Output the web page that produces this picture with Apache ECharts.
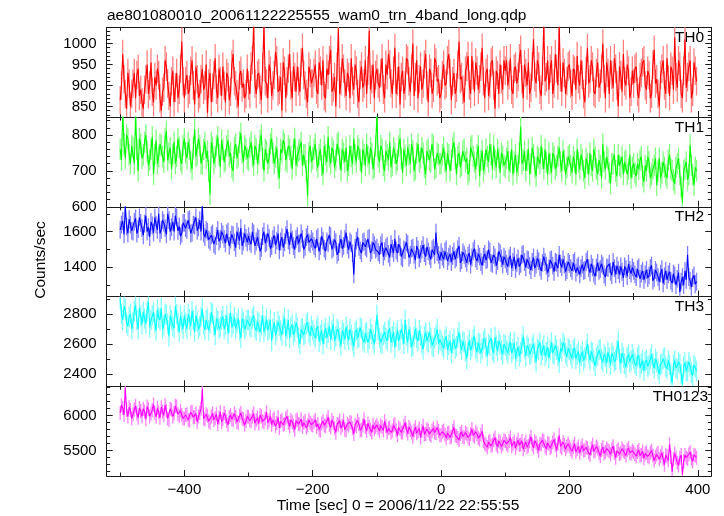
<!DOCTYPE html>
<html><head><meta charset="utf-8">
<script src="https://cdn.jsdelivr.net/npm/echarts@6/dist/echarts.min.js"></script>
<style>html,body{margin:0;padding:0;background:#fff}#c{width:724px;height:516px}</style>
</head><body><div id="c"></div>
<script>
const title = "ae801080010_20061122225555_wam0_trn_4band_long.qdp";
const yName = "Counts/sec";
const xName = "Time [sec] 0 = 2006/11/22 22:55:55";
const panelNames = ["TH0", "TH1", "TH2", "TH3", "TH0123"];
const t0 = -500, dt = 2;

const th0 = [
865,900,975,915,880,845,930,905,850,880,905,930,870,925,940,875,890,860,845,890,915,950,880,900,955,885,860,920,900,940,925,870,840,885,895,960,945,905,875,850,910,935,860,895,930,870,890,940,1005,910,
870,910,925,880,890,935,960,900,855,945,915,870,880,915,940,890,900,950,835,905,930,860,895,925,965,890,870,940,910,875,945,900,860,930,920,865,885,950,975,910,900,880,850,925,935,895,905,870,880,940,
900,880,945,960,1045,905,880,925,930,890,865,945,1040,910,905,870,950,935,875,900,925,980,960,885,890,920,840,955,935,870,910,940,975,900,870,945,920,885,945,910,885,955,990,925,900,880,860,945,930,905,
905,930,950,890,880,955,935,900,960,875,870,940,925,960,985,885,895,920,850,945,1036,880,910,965,940,905,875,930,920,870,965,910,890,950,935,880,860,925,945,895,905,960,880,935,1030,890,915,950,870,925,
940,905,895,930,965,890,870,950,925,975,950,905,880,935,990,880,910,945,855,920,935,880,900,965,960,910,885,940,1000,875,920,960,870,915,945,890,905,950,975,900,860,940,930,880,895,965,955,910,915,870,
880,925,950,900,905,960,975,930,865,910,930,880,895,950,1005,915,920,890,860,935,945,970,900,880,970,925,885,955,935,890,915,945,990,910,870,930,940,875,905,955,960,900,845,935,925,880,950,915,890,960,
935,960,900,925,965,890,880,940,945,905,920,965,985,915,870,950,930,900,955,880,895,945,1010,920,905,960,945,890,875,935,1045,910,920,960,890,940,960,880,905,975,940,900,1045,920,885,955,930,880,910,945,
950,905,875,940,935,890,970,915,900,960,925,880,860,935,990,905,915,960,945,885,880,930,955,895,905,940,1000,915,870,955,930,880,960,925,895,965,940,900,850,945,925,885,975,910,900,950,935,870,885,935,
905,940,945,885,870,920,930,955,960,900,890,935,925,870,880,950,985,905,915,880,850,925,940,960,900,880,965,915,875,945,935,890,1015,920,895,960,945,880,870,935,1010,895,920,945,960,870,885,955,935,910];

const th1 = [
760,730,860,775,735,800,790,745,720,770,765,720,855,760,700,790,775,735,745,780,800,755,715,730,760,795,690,745,785,720,740,775,770,740,725,790,810,730,750,765,705,745,780,720,740,790,765,730,720,770,
790,750,735,780,760,725,705,765,815,740,745,790,770,720,720,760,780,735,755,700,635,780,765,720,740,770,795,745,710,785,760,725,730,770,785,740,750,710,700,765,775,735,740,780,805,750,725,770,760,735,
730,765,780,740,715,770,760,720,745,785,800,735,700,760,755,720,735,775,790,750,720,740,765,705,680,760,750,785,775,730,725,770,760,740,705,760,790,715,740,755,760,780,715,745,745,700,630,750,770,725,
735,760,775,730,710,745,760,715,690,770,745,725,795,740,720,765,755,710,730,775,780,735,700,760,750,725,765,700,715,770,740,720,790,745,725,770,760,730,695,760,745,715,775,740,720,765,750,705,710,770,
855,740,725,770,760,715,700,755,745,730,780,710,715,765,750,720,730,770,790,735,695,760,740,715,765,745,720,775,755,700,705,750,775,725,735,765,750,710,690,755,760,730,725,775,770,705,710,750,745,720,
720,745,765,725,700,750,745,700,730,765,780,735,690,740,750,710,715,755,760,725,735,690,700,765,770,740,725,705,745,770,685,730,755,700,720,760,740,725,775,745,705,770,730,710,760,735,695,750,740,715,
710,735,755,700,725,760,690,725,745,695,715,750,823,720,730,755,700,730,760,690,720,765,745,710,685,740,735,720,770,735,705,760,725,690,750,720,695,750,740,705,715,740,765,725,700,755,730,690,710,740,
745,715,695,740,725,690,760,725,705,745,730,700,680,735,720,690,750,715,700,760,740,705,690,730,715,680,775,725,705,740,735,695,665,720,720,745,700,685,745,715,710,740,690,725,730,690,705,745,680,710,
720,695,685,720,705,730,740,685,670,715,700,740,725,680,690,705,715,735,660,700,735,680,695,725,710,690,680,730,745,705,700,675,665,710,720,735,690,655,612,700,705,725,675,690,772,715,690,660,710,700];

const th2 = [
1610,1640,1660,1585,1745,1630,1590,1670,1640,1605,1600,1655,1675,1590,1615,1680,1650,1620,1580,1645,1690,1600,1625,1570,1655,1635,1595,1680,1640,1610,1700,1590,1610,1665,1650,1620,1585,1700,1665,1600,1625,1655,1600,1690,1680,1605,1630,1575,1590,1650,
1650,1620,1610,1665,1670,1590,1595,1640,1635,1680,1605,1625,1665,1600,1750,1590,1570,1610,1600,1555,1545,1580,1590,1530,1520,1575,1610,1545,1560,1600,1585,1560,1535,1590,1600,1520,1555,1585,1580,1540,1510,1600,1575,1550,1620,1520,1545,1590,1565,1540,
1575,1545,1530,1600,1590,1520,1545,1570,1560,1490,1510,1575,1600,1535,1540,1590,1565,1505,1520,1560,1580,1525,1550,1590,1495,1545,1570,1510,1540,1580,1615,1550,1525,1595,1555,1520,1500,1560,1575,1535,1535,1590,1560,1500,1515,1570,1585,1540,1530,1560,
1545,1520,1505,1560,1570,1490,1520,1575,1550,1505,1490,1545,1535,1580,1575,1500,1510,1555,1540,1470,1485,1530,1560,1505,1520,1560,1595,1525,1500,1545,1535,1480,1360,1510,1550,1570,1515,1495,1480,1540,1545,1515,1505,1560,1565,1480,1495,1540,1525,1500,
1510,1485,1470,1525,1540,1460,1490,1510,1520,1475,1455,1530,1505,1480,1560,1495,1480,1530,1515,1460,1450,1500,1495,1540,1530,1455,1470,1505,1510,1470,1440,1520,1500,1450,1475,1500,1525,1480,1460,1515,1490,1465,1445,1500,1510,1470,1595,1485,1470,1440,
1485,1460,1445,1490,1500,1435,1460,1475,1430,1465,1490,1445,1455,1500,1520,1425,1440,1485,1470,1450,1425,1465,1480,1415,1455,1490,1505,1450,1435,1475,1460,1430,1410,1460,1475,1440,1445,1500,1490,1425,1420,1470,1455,1410,1435,1490,1480,1450,1415,1460,
1445,1420,1405,1450,1465,1395,1430,1460,1390,1425,1450,1405,1420,1470,1475,1430,1400,1445,1440,1410,1385,1430,1455,1395,1415,1450,1435,1400,1380,1425,1460,1430,1410,1370,1395,1440,1445,1410,1375,1430,1425,1395,1470,1420,1400,1445,1415,1375,1385,1430,
1420,1395,1380,1425,1435,1370,1400,1410,1360,1395,1415,1380,1385,1430,1445,1395,1370,1420,1400,1365,1350,1400,1425,1380,1390,1420,1410,1360,1345,1400,1395,1420,1375,1355,1430,1395,1360,1410,1385,1360,1405,1375,1340,1405,1390,1350,1420,1385,1365,1400,
1380,1360,1345,1390,1400,1335,1365,1380,1330,1360,1385,1340,1355,1395,1410,1325,1340,1385,1370,1345,1320,1365,1390,1310,1350,1380,1330,1360,1375,1325,1310,1365,1355,1300,1335,1370,1260,1320,1345,1300,1380,1330,1470,1345,1325,1290,1340,1355,1305,1320];

const th3 = [
2900,2800,2760,2850,2830,2740,2720,2780,2800,2700,2745,2820,2860,2760,2700,2840,2790,2730,2815,2770,2735,2820,2880,2710,2760,2790,2810,2740,2690,2830,2775,2760,2840,2700,2725,2800,2795,2735,2650,2790,2760,2720,2705,2850,2800,2740,2680,2790,2745,2700,
2790,2740,2700,2800,2765,2720,2820,2760,2680,2790,2750,2700,2720,2780,2835,2730,2695,2760,2770,2690,2740,2810,2800,2720,2660,2770,2755,2700,2715,2760,2785,2700,2730,2790,2670,2740,2810,2710,2735,2780,2700,2740,2770,2690,2640,2770,2745,2700,2720,2760,
2760,2720,2710,2770,2790,2705,2690,2750,2740,2680,2725,2790,2680,2720,2765,2690,2700,2760,2620,2700,2745,2660,2690,2750,2720,2690,2660,2730,2775,2650,2700,2760,2640,2710,2730,2660,2685,2740,2710,2640,2600,2700,2705,2660,2670,2730,2745,2680,2655,2720,
2690,2660,2640,2700,2720,2615,2660,2690,2600,2670,2705,2640,2675,2720,2630,2690,2735,2620,2650,2700,2685,2640,2590,2690,2670,2630,2715,2660,2625,2700,2660,2620,2580,2680,2695,2640,2645,2710,2700,2630,2610,2670,2680,2610,2635,2700,2665,2630,2600,2680,
2795,2690,2640,2610,2600,2660,2680,2640,2620,2690,2705,2610,2650,2680,2575,2650,2690,2620,2630,2700,2665,2600,2760,2660,2610,2700,2645,2580,2590,2650,2700,2640,2620,2690,2655,2600,2565,2650,2675,2620,2610,2680,2640,2590,2580,2640,2660,2700,2600,2630,
2620,2590,2570,2630,2650,2560,2595,2620,2540,2600,2630,2570,2585,2640,2680,2600,2560,2620,2610,2550,2500,2590,2625,2560,2580,2630,2655,2570,2545,2610,2600,2540,2570,2620,2635,2580,2520,2600,2590,2640,2560,2540,2645,2590,2555,2620,2600,2560,2530,2600,
2590,2560,2540,2590,2615,2540,2565,2610,2500,2550,2580,2520,2545,2600,2650,2570,2520,2590,2575,2530,2535,2580,2600,2540,2480,2570,2560,2610,2525,2560,2590,2520,2545,2580,2505,2560,2610,2540,2530,2590,2565,2520,2475,2570,2550,2610,2590,2540,2515,2570,
2560,2530,2505,2560,2575,2500,2530,2550,2470,2520,2550,2490,2510,2560,2600,2530,2490,2550,2540,2490,2455,2510,2525,2560,2565,2500,2480,2530,2515,2470,2545,2510,2460,2540,2520,2480,2495,2560,2620,2500,2470,2540,2510,2470,2445,2510,2530,2480,2490,2530,
2500,2470,2455,2510,2525,2440,2470,2490,2420,2480,2495,2450,2460,2500,2530,2470,2440,2500,2480,2430,2400,2460,2470,2500,2510,2450,2435,2490,2460,2400,2340,2460,2490,2440,2430,2480,2465,2400,2330,2450,2475,2420,2420,2480,2450,2410,2390,2460,2445,2420];

const th0123 = [
6040,6150,6110,6010,6400,6080,5990,6120,6080,5960,6020,6090,6140,6030,5970,6110,6065,5990,6100,6060,5950,6130,6090,5990,6030,6080,6160,6040,5985,6110,6050,5970,6120,6060,6005,6150,6070,5960,5940,6100,6085,5990,6035,6140,6130,6020,5995,6070,6010,5960,
5960,6010,6020,5940,5930,6050,6060,5980,5975,6030,5910,5990,6040,6100,6385,5960,5945,6020,6000,5920,5900,5990,6030,5940,5965,6020,5880,5970,6050,5910,5950,6040,5990,5920,5870,5980,6010,5950,5935,6030,5980,5910,5895,6000,6040,5960,5950,5870,5920,5990,
5985,5930,5920,5990,6030,5890,5940,5970,5890,6010,5990,5920,5905,5960,6050,5900,5935,5990,5870,5940,5960,5850,5895,5980,5825,5920,5935,5870,5880,5960,5990,5900,5850,5940,5910,5860,5800,5930,5945,5880,5875,5950,5840,5900,5925,5830,5860,5940,5900,5870,
5860,5910,5940,5840,5880,5800,5790,5890,5925,5860,5850,5920,5980,5870,5830,5940,5895,5820,5760,5880,5870,5930,5820,5860,5935,5800,5790,5880,5855,5910,5900,5820,5740,5870,5845,5930,5880,5790,5800,5860,5950,5840,5780,5890,5835,5800,5760,5870,5810,5840,
5870,5820,5780,5860,5840,5790,5920,5850,5760,5820,5830,5760,5790,5860,5880,5790,5720,5830,5810,5760,5765,5850,5900,5800,5745,5840,5800,5760,5700,5790,5835,5750,5770,5820,5690,5780,5855,5730,5740,5810,5790,5740,5715,5790,5820,5760,5750,5830,5780,5720,
5720,5770,5790,5730,5680,5750,5760,5690,5700,5780,5835,5720,5710,5680,5650,5740,5770,5700,5690,5760,5740,5690,5665,5740,5810,5720,5700,5770,5735,5680,5660,5730,5780,5640,5600,5580,5550,5620,5640,5570,5585,5650,5690,5590,5560,5640,5620,5560,5595,5650,
5640,5600,5575,5640,5690,5560,5600,5630,5540,5600,5655,5580,5590,5640,5520,5580,5625,5550,5570,5630,5700,5590,5545,5640,5610,5560,5500,5600,5590,5650,5640,5560,5530,5610,5600,5540,5555,5620,5660,5580,5510,5600,5720,5560,5540,5620,5580,5520,5565,5600,
5560,5520,5490,5550,5600,5480,5520,5560,5470,5530,5575,5500,5505,5550,5540,5470,5440,5530,5585,5490,5495,5560,5530,5470,5420,5510,5550,5460,5480,5530,5510,5490,5450,5520,5565,5470,5400,5500,5520,5450,5470,5530,5495,5480,5430,5510,5540,5470,5455,5500,
5480,5450,5420,5480,5510,5430,5440,5490,5390,5460,5470,5420,5405,5470,5500,5430,5360,5410,5445,5470,5380,5420,5470,5380,5300,5440,5420,5360,5590,5410,5200,5380,5460,5400,5330,5290,5400,5440,5160,5350,5440,5400,5380,5450,5480,5390,5350,5440,5430,5400];

const errHalf = [34, 30, 50, 68, 100];

const xMin = -521, xMax = 421;
const xLabelValues = [-400, -200, 0, 200, 400];
const xMinorTicks = [-500, -300, -100, 100, 300];

const yMin = [825, 600, 1236, 2318, 5139];
const yMax = [1038.6, 850, 1740, 2917, 6420];
const yLabelValues = [[850, 900, 950, 1000], [600, 700, 800], [1400, 1600], [2400, 2600, 2800], [5500, 6000]];
const yMinorStep = [10, 20, 100, 100, 100];

// ---- presentation ----
const FONT = "'Liberation Sans', Arial, Helvetica, sans-serif";
const lineColors = ['#ff0000', '#00ff00', '#0000ff', '#00ffff', '#ff00ff'];
const barColors = ['#ff8080', '#80ff80', '#8080ff', '#80ffff', '#ff80ff'];
const frameC = '#1a1a1a';
const allSeries = [th0, th1, th2, th3, th0123];

function stepValues(a, b, s, exclude) {
  const r = [];
  for (let v = Math.ceil(a / s) * s; v <= b + 1e-9; v += s) {
    const w = Math.round(v * 1000) / 1000;
    if (exclude.indexOf(w) < 0) r.push(w);
  }
  return r;
}

const gridTop = 27.3, gridH = 89.74;
const grids = [], xAxes = [], yAxes = [], series = [], graphic = [];

function xAx(i, pos, ticks, len, showLine, labels) {
  return {
    type: 'value', gridIndex: i, position: pos, min: xMin, max: xMax,
    axisLine: { show: showLine, onZero: false, lineStyle: { color: frameC, width: 1 } },
    axisTick: { show: true, inside: true, length: len, customValues: ticks, lineStyle: { color: frameC, width: 1 } },
    axisLabel: labels ? {
      show: true, customValues: labels, margin: 6, color: '#000', fontSize: 15, fontFamily: FONT,
      formatter: v => (v < 0 ? '\u2212' : '') + String(Math.abs(v))
    } : { show: false },
    splitLine: { show: false }
  };
}
function yAx(i, pos, ticks, len, showLine, labels) {
  return {
    type: 'value', gridIndex: i, position: pos, min: yMin[i], max: yMax[i],
    axisLine: { show: showLine, onZero: false, lineStyle: { color: frameC, width: 1 } },
    axisTick: { show: true, inside: true, length: len, customValues: ticks, lineStyle: { color: frameC, width: 1 } },
    axisLabel: labels ? {
      show: true, customValues: labels, margin: 10, color: '#000', fontSize: 15, fontFamily: FONT,
      formatter: v => String(v)
    } : { show: false },
    splitLine: { show: false }
  };
}

for (let i = 0; i < 5; i++) {
  const top = gridTop + i * gridH;
  grids.push({ left: 106.7, right: 12.7, top: top, height: gridH });
  xAxes.push(xAx(i, 'bottom', xLabelValues, 6, true, i === 4 ? xLabelValues : null));
  xAxes.push(xAx(i, 'top', xLabelValues, 6, true, null));
  xAxes.push(xAx(i, 'bottom', xMinorTicks, 3.5, false, null));
  xAxes.push(xAx(i, 'top', xMinorTicks, 3.5, false, null));
  const minor = stepValues(yMin[i], yMax[i], yMinorStep[i], yLabelValues[i]);
  yAxes.push(yAx(i, 'left', yLabelValues[i], 6, true, yLabelValues[i]));
  yAxes.push(yAx(i, 'right', yLabelValues[i], 6, true, null));
  yAxes.push(yAx(i, 'left', minor, 3.5, false, null));
  yAxes.push(yAx(i, 'right', minor, 3.5, false, null));

  const vals = allSeries[i];
  const e = errHalf[i];
  const bc = barColors[i];
  series.push({
    type: 'custom', xAxisIndex: 4 * i, yAxisIndex: 4 * i, clip: true, silent: true, animation: false, z: 2,
    encode: { x: 0, y: [1, 2] },
    data: vals.map((v, k) => [t0 + k * dt, v - e, v + e]),
    renderItem: (params, api) => {
      const x = api.value(0);
      const a = api.coord([x, api.value(1)]);
      const b = api.coord([x, api.value(2)]);
      return { type: 'line', shape: { x1: a[0], y1: a[1], x2: b[0], y2: b[1] }, style: { stroke: bc, lineWidth: 1.3 } };
    }
  });
  series.push({
    type: 'line', xAxisIndex: 4 * i, yAxisIndex: 4 * i, data: vals.map((v, k) => [t0 + k * dt, v]),
    showSymbol: false, symbol: 'none', silent: true, animation: false, clip: true, z: 3, sampling: null,
    lineStyle: { color: lineColors[i], width: 1.1 }
  });

  graphic.push({
    type: 'text', x: i === 4 ? 708 : 704, y: top + 10.3,
    style: { text: panelNames[i], fontSize: 15.5, fontFamily: FONT, fill: '#000',
      textAlign: 'right', align: 'right', textVerticalAlign: 'middle', verticalAlign: 'middle' }
  });
}

graphic.push({
  type: 'text', x: 107, y: 16,
  style: { text: title, fontSize: 15.5, fontFamily: FONT, fill: '#000',
    textAlign: 'left', align: 'left', textVerticalAlign: 'middle', verticalAlign: 'middle' }
});
graphic.push({
  type: 'text', x: 41, y: 260, rotation: Math.PI / 2,
  style: { text: yName, fontSize: 15.5, fontFamily: FONT, fill: '#000',
    textAlign: 'center', align: 'center', textVerticalAlign: 'middle', verticalAlign: 'middle' }
});
graphic.push({
  type: 'text', x: 398, y: 506,
  style: { text: xName, fontSize: 15.5, fontFamily: FONT, fill: '#000',
    textAlign: 'center', align: 'center', textVerticalAlign: 'middle', verticalAlign: 'middle' }
});

const chart = echarts.init(document.getElementById('c'), null, { renderer: 'canvas', width: 724, height: 516 });
chart.setOption({
  animation: false,
  backgroundColor: '#fff',
  grid: grids, xAxis: xAxes, yAxis: yAxes, series: series, graphic: graphic
});
</script>
</body></html>
